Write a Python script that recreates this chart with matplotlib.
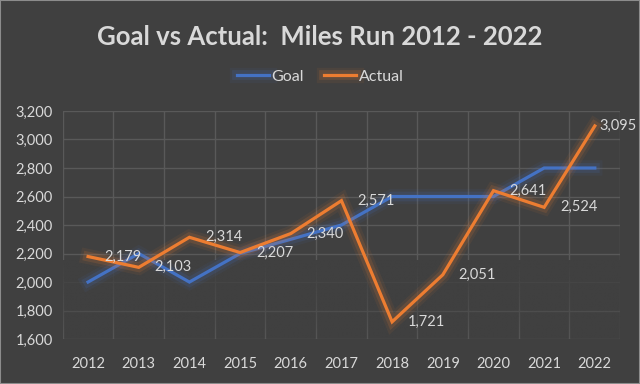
import matplotlib.pyplot as plt
import matplotlib.patheffects as pe
import numpy as np

# Data
years = ['2012', '2013', '2014', '2015', '2016', '2017', '2018', '2019', '2020', '2021', '2022']
goal = [2000, 2200, 2000, 2200, 2300, 2400, 2600, 2600, 2600, 2800, 2800]
actual = [2179, 2103, 2314, 2207, 2340, 2571, 1721, 2051, 2641, 2524, 3095]

bg = '#404040'
txt = '#d9d9d9'
blue = '#4472c4'
orange = '#ed7d31'

plt.rcParams['font.family'] = ['Lato', 'DejaVu Sans']

fig = plt.figure(figsize=(6.4, 3.84), dpi=100, facecolor=bg)
ax = fig.add_axes([0.098, 0.117, 0.871, 0.594], facecolor=bg)

x = np.arange(len(years))

def glow(color):
    return [pe.Stroke(linewidth=11, foreground=color, alpha=0.07),
            pe.Stroke(linewidth=7, foreground=color, alpha=0.15),
            pe.Normal()]

ax.plot(x, goal, color=blue, lw=2.3, label='Goal', zorder=3,
        path_effects=glow(blue), solid_joinstyle='miter')
ax.plot(x, actual, color=orange, lw=2.3, label='Actual', zorder=4,
        path_effects=glow(orange), solid_joinstyle='miter')

# data labels to the right of each point
for i, v in enumerate(actual):
    dx = 3 if i == len(actual) - 1 else 11.5
    ax.annotate(f'{v:,}', (i, v), xytext=(dx, 0), textcoords='offset points',
                ha='left', va='center', color=txt, fontsize=10.5, zorder=5)

ax.set_xticks(x)
ax.set_xticklabels(years)
ax.set_xticks(np.arange(-0.5, len(years), 1), minor=True)
ax.set_yticks(np.arange(1600, 3201, 200))
ax.yaxis.set_major_formatter(plt.FuncFormatter(lambda v, p: f'{int(v):,}'))

ax.grid(axis='y', which='major', color='#595959', lw=1)
ax.grid(axis='x', which='minor', color='#595959', lw=1)
ax.set_axisbelow(True)

# fade the gridlines toward the bottom
grad = np.zeros((100, 2, 4))
grad[..., :3] = np.array([0x40, 0x40, 0x40]) / 255
grad[..., 3] = np.linspace(0, 1, 100)[:, None] ** 0.8
ax.imshow(grad, extent=[-0.6, len(years) - 0.4, 2150, 1560], aspect='auto',
          origin='upper', zorder=1.5, interpolation='bilinear')
ax.set_xlim(-0.5, len(years) - 0.5)
ax.set_ylim(1600, 3200)

ax.tick_params(which='both', length=0, colors=txt, labelsize=10.5)
ax.tick_params(axis='x', pad=13)
ax.tick_params(axis='y', pad=7)
for s in ax.spines.values():
    s.set_visible(False)

fig.suptitle('Goal vs Actual:  Miles Run 2012 - 2022', y=0.935, color=txt,
             fontsize=18.5, fontweight='bold')
fig.legend(loc='center', bbox_to_anchor=(0.5, 0.8), ncol=2, frameon=False,
           labelcolor=txt, fontsize=11.5, handlelength=2.0, handletextpad=0.15,
           columnspacing=1.3)

# thin outer border
fig.patches.append(plt.Rectangle((0, 0), 1, 1, transform=fig.transFigure,
                                 fill=False, edgecolor='#8c8c8c', lw=1.5))

plt.savefig('out.png', dpi=100, facecolor=bg)
